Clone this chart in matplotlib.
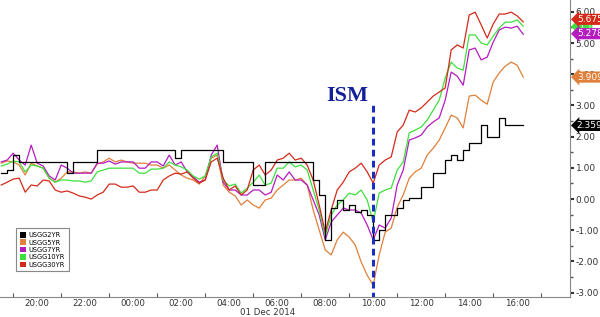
import numpy as np
import pandas as pd
import matplotlib
matplotlib.use("Agg")
import matplotlib.pyplot as plt
import matplotlib.dates as mdates
from matplotlib.patches import Patch
from matplotlib.transforms import blended_transform_factory

# 15-min samples, 30 Nov 18:30 -> 01 Dec 16:15
times = pd.date_range("2014-11-30 18:30", periods=88, freq="15min")

usgg2 = [0.83, 0.93, 1.41, 1.19, 1.19, 1.19, 1.19, 1.19, 1.19, 1.19,
         1.19, 0.83, 1.19, 1.19, 1.19, 1.19, 1.57, 1.57, 1.57, 1.57,
         1.57, 1.57, 1.57, 1.57, 1.57, 1.57, 1.57, 1.57, 1.57, 1.31,
         1.57, 1.57, 1.57, 1.57, 1.57, 1.57, 1.57, 1.19, 1.19, 1.19,
         1.19, 1.19, 0.45, 0.45, 1.19, 1.19, 1.19, 1.19, 1.19, 1.19,
         1.19, 1.19, 0.61, 0.13, -1.31, -0.29, -0.03, -0.35, -0.19, -0.42,
         -0.35, -0.51, -1.31, -0.99, -0.51, -0.51, -0.29, -0.03, 0.03, 0.03,
         0.38, 0.38, 0.83, 0.83, 1.25, 1.41, 1.25, 1.57, 1.79, 1.79,
         2.37, 1.99, 1.99, 2.60, 2.36, 2.36, 2.36, 2.36]
usgg5 = [1.15, 1.22, 1.19, 1.09, 0.77, 1.15, 1.06, 0.99, 0.67, 0.54,
         0.67, 0.87, 0.87, 0.83, 0.87, 0.83, 1.12, 1.19, 1.31, 1.19,
         1.25, 1.19, 1.15, 1.15, 1.15, 1.09, 1.09, 0.99, 1.09, 0.93,
         0.77, 0.67, 0.61, 0.48, 0.74, 1.31, 1.41, 0.45, 0.22, 0.10,
         -0.19, -0.03, -0.19, -0.29, -0.03, 0.03, 0.29, 0.45, 0.61, 0.61,
         0.67, 0.45, -0.35, -0.99, -1.63, -1.79, -1.31, -1.06, -1.22, -1.47,
         -2.02, -2.44, -2.76, -1.79, -1.06, -0.93, -0.26, 0.13, 0.67, 0.87,
         0.99, 1.41, 1.63, 1.89, 2.28, 2.69, 2.60, 2.28, 3.30, 3.33,
         3.17, 3.04, 3.75, 4.04, 4.26, 4.39, 4.29, 3.91]
usgg7 = [1.19, 1.25, 1.47, 1.25, 1.09, 1.73, 1.15, 1.06, 0.74, 0.61,
         1.09, 0.99, 0.83, 0.83, 0.83, 0.83, 1.15, 1.15, 1.22, 1.12,
         1.19, 1.19, 1.19, 0.99, 0.99, 1.19, 1.19, 1.06, 1.41, 1.09,
         1.19, 0.87, 0.71, 0.54, 0.61, 1.41, 1.73, 0.54, 0.29, 0.29,
         0.13, 0.13, 0.29, 0.29, 0.13, 0.22, 0.77, 0.61, 0.87, 0.61,
         0.61, 0.45, -0.03, -0.51, -1.31, -0.74, -0.51, -0.29, -0.35, -0.35,
         -0.45, -0.83, -1.31, -0.83, -0.93, -0.61, 0.45, 0.93, 1.89, 1.96,
         2.05, 2.31, 2.47, 2.60, 3.17, 4.07, 3.94, 3.65, 4.78, 4.84,
         4.46, 4.55, 5.03, 5.42, 5.51, 5.48, 5.54, 5.28]
usgg10 = [1.06, 1.12, 1.22, 1.19, 0.87, 1.09, 1.06, 0.99, 0.67, 0.54,
          0.61, 0.61, 0.58, 0.58, 0.54, 0.58, 0.87, 0.93, 0.99, 0.99,
          0.99, 0.99, 0.99, 0.83, 0.83, 0.96, 0.96, 0.99, 1.19, 1.09,
          1.03, 0.93, 0.74, 0.64, 0.74, 1.35, 1.47, 0.61, 0.42, 0.48,
          0.19, 0.35, 0.54, 0.77, 0.45, 0.51, 0.99, 0.99, 1.19, 1.03,
          1.09, 0.93, 0.29, -0.35, -1.19, -0.51, -0.19, -0.03, 0.19, 0.13,
          0.29, -0.03, -0.74, 0.19, 0.29, 0.35, 0.93, 1.19, 2.12, 2.21,
          2.31, 2.53, 2.85, 3.17, 3.88, 4.39, 4.20, 4.13, 5.26, 5.26,
          5.00, 4.94, 5.22, 5.48, 5.67, 5.67, 5.74, 5.54]
usgg30 = [0.45, 0.54, 0.64, 0.67, 0.22, 0.45, 0.42, 0.61, 0.58, 0.29,
          0.22, 0.26, 0.19, 0.10, 0.06, 0.00, 0.13, 0.22, 0.48, 0.48,
          0.38, 0.38, 0.42, 0.22, 0.22, 0.29, 0.29, 0.61, 0.74, 0.83,
          0.80, 0.87, 0.67, 0.51, 0.61, 1.19, 1.31, 0.67, 0.29, 0.42,
          0.13, 0.29, 0.93, 1.09, 0.77, 0.93, 1.25, 1.31, 1.47, 1.25,
          1.31, 1.09, 0.61, -0.19, -1.06, -0.35, 0.29, 0.54, 0.87, 0.99,
          1.15, 0.87, 0.51, 1.09, 1.25, 1.35, 2.15, 2.37, 2.85, 2.79,
          2.92, 3.11, 3.30, 3.43, 3.56, 4.78, 4.94, 4.84, 5.90, 5.99,
          5.58, 5.16, 5.61, 5.93, 5.93, 5.99, 5.87, 5.68]

names = ["USGG2YR", "USGG5YR", "USGG7YR", "USGG10YR", "USGG30YR"]
colors = ["#000000", "#e0803a", "#b51cc0", "#3ee03e", "#d42a1a"]
last_vals = ["2.3593", "3.9097", "5.2786", "5.5", "5.6757"]
tag_pos = [2.36, 3.91, 5.30, 5.53, 5.76]
label_hours = pd.date_range("2014-11-30 20:00", "2014-12-01 16:00", freq="2h")
tick_hours = pd.date_range("2014-11-30 19:00", "2014-12-01 17:00", freq="2h")

fig = plt.figure(figsize=(6.0, 3.17), dpi=100)
ax = fig.add_axes([0.0, 0.063, 0.95, 0.937])

series = [usgg2, usgg5, usgg7, usgg10, usgg30]
for i in [1, 2, 3, 4, 0]:
    ds = "steps-post" if i == 0 else "default"
    ax.plot(times, series[i], color=colors[i], lw=0.9, drawstyle=ds)

# ISM marker
ism = pd.Timestamp("2014-12-01 10:00")
ax.plot([ism, ism], [-3.2, 3.0], color="#1a2ec0", lw=2.2, ls=(0, (2.2, 1.4)))
ax.text(pd.Timestamp("2014-12-01 08:55"), 2.98, "ISM", family="Liberation Serif",
        weight="bold", fontsize=16, color="#14209a", ha="center", va="bottom")

ax.set_xlim(pd.Timestamp("2014-11-30 18:27"), pd.Timestamp("2014-12-01 18:12"))
ax.set_ylim(-3.14, 6.38)

# x axis: tick marks on odd hours, labels on even hours
ax.set_xticks(mdates.date2num(tick_hours))
ax.xaxis.set_major_formatter(plt.NullFormatter())
ax.set_xticks(mdates.date2num(label_hours), minor=True)
ax.xaxis.set_minor_formatter(mdates.DateFormatter("%H:%M"))
ax.tick_params(axis="x", which="major", direction="in", length=3, color="#555555")
ax.tick_params(axis="x", which="minor", length=0, labelsize=6.2, labelcolor="#333333", pad=1.5)

# y axis on the right
ax.yaxis.tick_right()
ax.set_yticks(np.arange(-3, 7, 1))
ax.set_yticks(np.arange(-2.5, 6.5, 1), minor=True)
ax.yaxis.set_major_formatter(plt.FuncFormatter(lambda v, p: f"{v:.2f}"))
ax.tick_params(axis="y", which="major", direction="out", length=3, width=1.5,
               color="#333333", labelsize=6.5, labelcolor="#333333", pad=1)
ax.tick_params(axis="y", which="minor", direction="out", length=2, width=1, color="#555555")

for s in ["left", "top"]:
    ax.spines[s].set_visible(False)
ax.spines["right"].set_color("#888888")
ax.spines["bottom"].set_color("#888888")
ax.spines["right"].set_linewidth(0.8)
ax.spines["bottom"].set_linewidth(0.8)

fig.text(295 / 600, 1 - 312.5 / 317, "01 Dec 2014", fontsize=6.2, color="#333333",
         ha="right", va="center")

# last value tags
tr = blended_transform_factory(ax.transAxes, ax.transData)
for i in [3, 4, 2, 1, 0]:
    ax.text(1.012, tag_pos[i], last_vals[i], transform=tr, fontsize=6.5, color="white",
            ha="left", va="center", clip_on=False, zorder=5,
            bbox=dict(boxstyle="larrow,pad=0.12", fc=colors[i], ec="none"))

handles = [Patch(facecolor=c, edgecolor="none") for c in colors]
leg = ax.legend(handles, names, loc="lower left", bbox_to_anchor=(0.022, 0.075),
                fontsize=4.8, handlelength=0.9, handleheight=0.9, handletextpad=0.5,
                labelspacing=0.2, borderpad=0.55, fancybox=False, framealpha=1)
leg.get_frame().set_edgecolor("#888888")
leg.get_frame().set_linewidth(0.8)

plt.savefig("out.png", dpi=100)
